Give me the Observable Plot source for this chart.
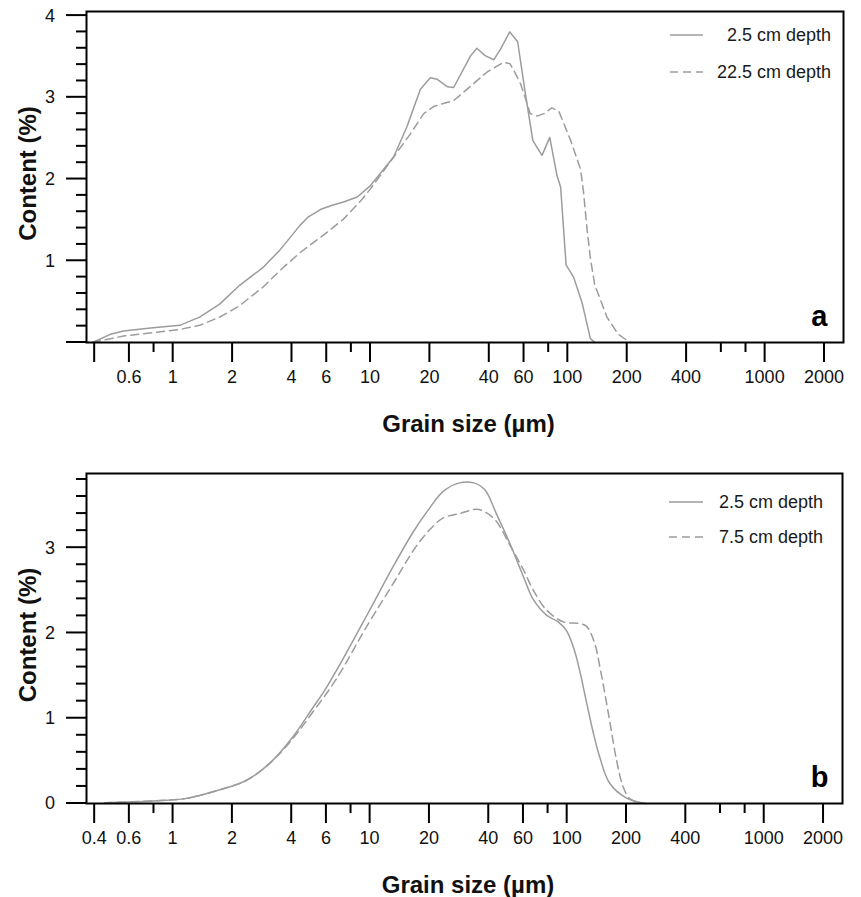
<!DOCTYPE html>
<html>
<head>
<meta charset="utf-8">
<script src="https://cdn.jsdelivr.net/npm/d3@7"></script>
<script src="https://cdn.jsdelivr.net/npm/@observablehq/plot@0.6"></script>
<style>
  html, body { margin: 0; padding: 0; background: #fff; }
  #chart { width: 861px; height: 897px; }
  #chart svg { display: block; }
</style>
</head>
<body>
<div id="chart"></div>
<script>
// ---------- data ----------
// Panel a — 2.5 cm depth (solid)
const aSolidSize = [0.39, 0.48, 0.56, 0.79, 1.08, 1.36, 1.72, 2.17, 2.86, 3.47, 3.9, 4.38, 4.8, 5.6, 6.4, 7.3, 8.57, 10, 13.1, 15.3, 17.9, 20.1, 21.8, 24.5, 26.4, 32.2, 34.6, 38.1, 42.2, 45.6, 50.8, 55.7, 61, 66.5, 74, 81, 88, 92, 98, 107, 118, 130, 137];
const aSolidContent = [0, 0.1, 0.14, 0.18, 0.21, 0.31, 0.47, 0.7, 0.92, 1.13, 1.28, 1.43, 1.53, 1.63, 1.68, 1.72, 1.78, 1.92, 2.27, 2.64, 3.1, 3.24, 3.22, 3.13, 3.12, 3.51, 3.6, 3.51, 3.46, 3.59, 3.8, 3.68, 3.04, 2.47, 2.29, 2.51, 2.05, 1.9, 0.95, 0.8, 0.49, 0.05, 0];
// Panel a — 22.5 cm depth (dashed)
const aDashSize = [0.39, 0.56, 0.79, 1.08, 1.36, 1.72, 2.17, 2.86, 3.47, 4.4, 6.04, 7.3, 8.9, 10, 13.1, 15.9, 18.6, 21, 26.4, 30.9, 39, 47.5, 51, 54.3, 57.5, 60, 64.5, 70, 75.6, 83, 90, 103.5, 116, 120, 125, 130, 137, 145, 158, 180, 207];
const aDashContent = [0, 0.08, 0.12, 0.16, 0.21, 0.31, 0.45, 0.68, 0.88, 1.1, 1.35, 1.51, 1.73, 1.88, 2.27, 2.55, 2.8, 2.89, 2.96, 3.1, 3.31, 3.43, 3.41, 3.29, 3.17, 3.04, 2.8, 2.77, 2.8, 2.87, 2.83, 2.47, 2.12, 1.85, 1.4, 1.04, 0.7, 0.55, 0.31, 0.1, 0];

// Panel b — 2.5 cm depth (solid)
const bSolidSize = [0.45, 0.79, 1.17, 1.72, 2.35, 3.09, 4.05, 5.11, 6.0, 7.3, 9.8, 13.1, 16.6, 19.7, 23.5, 28.5, 33.5, 38.2, 43.7, 51.2, 60, 67.4, 78.5, 90, 99, 108, 116, 125, 135, 146, 164, 198, 250];
const bSolidContent = [0.01, 0.03, 0.06, 0.16, 0.27, 0.47, 0.78, 1.12, 1.36, 1.7, 2.24, 2.78, 3.19, 3.44, 3.66, 3.76, 3.76, 3.68, 3.4, 3.05, 2.66, 2.39, 2.21, 2.13, 2.03, 1.82, 1.55, 1.2, 0.85, 0.55, 0.24, 0.07, 0];
// Panel b — 7.5 cm depth (dashed)
const bDashSize = [0.45, 0.79, 1.17, 1.72, 2.35, 3.09, 4.05, 5.11, 6.65, 9.8, 13.1, 16.6, 19.7, 23.5, 28.5, 34.6, 38.2, 43.7, 51.2, 60, 67.4, 78.5, 95.5, 116, 125, 137, 148, 164, 178, 192, 207, 233];
const bDashContent = [0.01, 0.03, 0.06, 0.16, 0.27, 0.47, 0.76, 1.07, 1.44, 2.11, 2.58, 2.97, 3.19, 3.35, 3.4, 3.45, 3.42, 3.31, 3.03, 2.74, 2.5, 2.27, 2.13, 2.11, 2.08, 1.9, 1.55, 0.98, 0.51, 0.2, 0.06, 0];

const legendA = ["2.5 cm depth", "22.5 cm depth"];
const legendB = ["2.5 cm depth", "7.5 cm depth"];

// tick values
const xMajorTicks = [0.4, 0.6, 1, 2, 4, 6, 10, 20, 40, 60, 100, 200, 400, 1000, 2000];
const xMinorTicks = [0.8, 8, 80, 600, 800];
const yMajorA = [0, 1, 2, 3, 4];
const yMinorA = [0.2, 0.4, 0.6, 0.8, 1.2, 1.4, 1.6, 1.8, 2.2, 2.4, 2.6, 2.8, 3.2, 3.4, 3.6, 3.8];
const yMajorB = [0, 1, 2, 3];
const yMinorB = [0.2, 0.4, 0.6, 0.8, 1.2, 1.4, 1.6, 1.8, 2.2, 2.4, 2.6, 2.8, 3.2, 3.4, 3.6, 3.8];

const xTitle = "Grain size (µm)";
const yTitle = "Content (%)";

// ---------- drawing ----------
const FONT = "'Liberation Sans', Arial, Helvetica, sans-serif";
const LINE = "#9c9c9c";

function toRows(sizes, contents) {
  return sizes.map((s, i) => ({size: s, content: contents[i]}));
}

// Axes (ticks outside the frame, labels, titles) drawn with Plot's own scales
function axesMark(o) {
  return (index, scales, values, dims) => {
    const x = scales.x, y = scales.y;
    const L = dims.marginLeft, R = dims.width - dims.marginRight;
    const T = dims.marginTop, B = dims.height - dims.marginBottom;
    const g = d3.create("svg:g").attr("font-family", FONT).attr("fill", "#111");
    const tk = g.append("g").attr("stroke", "black").attr("stroke-width", 2);
    xMajorTicks.forEach(v => tk.append("line").attr("x1", x(v)).attr("x2", x(v)).attr("y1", B).attr("y2", B + 20));
    xMinorTicks.forEach(v => tk.append("line").attr("x1", x(v)).attr("x2", x(v)).attr("y1", B).attr("y2", B + 10));
    o.yMajor.forEach(v => tk.append("line").attr("y1", y(v)).attr("y2", y(v)).attr("x1", L).attr("x2", L - 20));
    o.yMinor.forEach(v => tk.append("line").attr("y1", y(v)).attr("y2", y(v)).attr("x1", L).attr("x2", L - 10));
    const lab = g.append("g").attr("font-size", 18);
    xMajorTicks.forEach(v => {
      const s = o.xFmt(v);
      if (s) lab.append("text").attr("x", x(v)).attr("y", B + 41).attr("text-anchor", "middle").text(s);
    });
    o.yMajor.forEach(v => {
      const s = o.yFmt(v);
      if (s) lab.append("text").attr("x", L - 31).attr("y", y(v)).attr("dy", "0.36em").attr("text-anchor", "end").text(s);
    });
    g.append("text").attr("x", (L + R) / 2 + 4).attr("y", B + 90)
      .attr("text-anchor", "middle").attr("font-size", 24).attr("font-weight", "bold").text(xTitle);
    g.append("text").attr("transform", `translate(36,${(T + B) / 2 - 3}) rotate(-90)`)
      .attr("text-anchor", "middle").attr("font-size", 24).attr("font-weight", "bold").text(yTitle);
    return g.node();
  };
}

function legendMark(labels, cfg) {
  return (index, scales, values, dims) => {
    const g = d3.create("svg:g")
      .attr("font-family", FONT)
      .attr("font-size", 18)
      .attr("fill", "#1a1a1a");
    const right = dims.width - dims.marginRight;
    labels.forEach((lab, i) => {
      const yy = dims.marginTop + cfg.rows[i];
      g.append("line")
        .attr("x1", right - cfg.lineFrom).attr("x2", right - cfg.lineTo)
        .attr("y1", yy).attr("y2", yy)
        .attr("stroke", LINE).attr("stroke-width", 1.6)
        .attr("stroke-dasharray", i === 0 ? null : "8,5");
      g.append("text")
        .attr("x", right - cfg.textRight).attr("y", yy)
        .attr("dy", "0.36em")
        .attr("text-anchor", "end")
        .text(lab);
    });
    return g.node();
  };
}

function panel(o) {
  return Plot.plot({
    width: 861,
    height: o.height,
    marginTop: o.marginTop,
    marginBottom: o.marginBottom,
    marginLeft: 86,
    marginRight: o.marginRight,
    x: {type: "log", domain: [0.3636, 2496], axis: null},
    y: {domain: [0, o.yMax], axis: null},
    style: {fontFamily: FONT, background: "white", color: "black", overflow: "visible"},
    marks: [
      Plot.line(o.solid, {x: "size", y: "content", stroke: LINE, strokeWidth: 1.5, curve: o.curve}),
      Plot.line(o.dash, {x: "size", y: "content", stroke: LINE, strokeWidth: 1.5, strokeDasharray: "8,5", curve: o.curve}),
      Plot.frame({stroke: "black", strokeWidth: 2}),
      axesMark(o),
      Plot.text([o.letter], {text: d => d, frameAnchor: "bottom-right", textAnchor: "end", dx: o.letterDx, dy: -17, fontSize: 29, fontWeight: "bold", fill: "#000"}),
      legendMark(o.legend, o.legendCfg)
    ]
  });
}

const chart = document.getElementById("chart");

chart.appendChild(panel({
  height: 450, marginTop: 11, marginBottom: 108, marginRight: 18,
  yMax: 4.05,
  solid: toRows(aSolidSize, aSolidContent),
  dash: toRows(aDashSize, aDashContent),
  curve: "linear",
  yMajor: yMajorA, yMinor: yMinorA,
  xFmt: d => (d === 0.4 ? "" : String(d)),
  yFmt: d => (d === 0 ? "" : String(d)),
  letter: "a", letterDx: -16,
  legend: legendA,
  legendCfg: {rows: [24, 61], lineFrom: 173, lineTo: 140, textRight: 12}
}));

chart.appendChild(panel({
  height: 447, marginTop: 23, marginBottom: 94, marginRight: 19,
  yMax: 3.87,
  solid: toRows(bSolidSize, bSolidContent),
  dash: toRows(bDashSize, bDashContent),
  curve: "catmull-rom",
  yMajor: yMajorB, yMinor: yMinorB,
  xFmt: d => String(d),
  yFmt: d => String(d),
  letter: "b", letterDx: -14,
  legend: legendB,
  legendCfg: {rows: [29, 64], lineFrom: 173, lineTo: 139, textRight: 19}
}));
</script>
</body>
</html>
